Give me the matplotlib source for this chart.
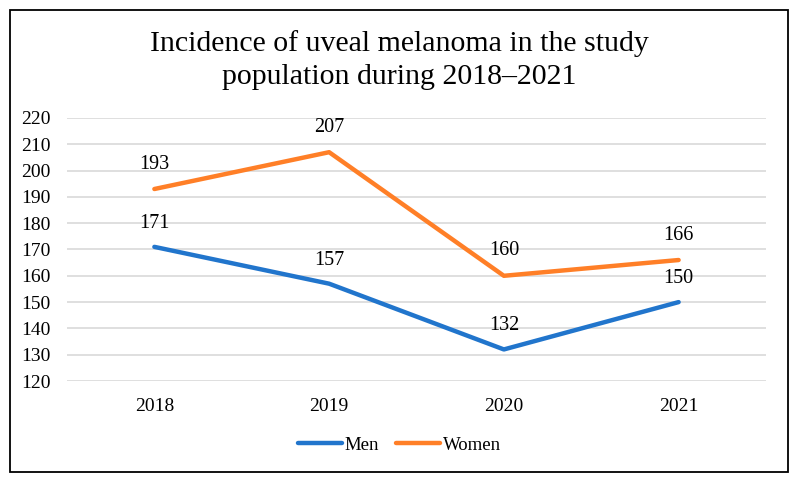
import matplotlib.pyplot as plt
from matplotlib.patches import Rectangle

# chart data
years = ["2018", "2019", "2020", "2021"]
men = [171, 157, 132, 150]
women = [193, 207, 160, 166]

plt.rcParams['font.family'] = ['Liberation Serif', 'DejaVu Serif']

W, H = 799, 482
fig = plt.figure(figsize=(W / 100, H / 100), dpi=100)

# outer frame
fig.patches.append(Rectangle((10 / W, 10 / H), 778 / W, 462 / H, transform=fig.transFigure,
                             fill=False, edgecolor='black', linewidth=1.3))

ax = fig.add_axes([67 / W, (H - 381) / H, 699 / W, 263 / H])
x = range(len(years))
ax.plot(x, men, color='#2175CC', linewidth=3.2, label='Men', solid_capstyle='round')
ax.plot(x, women, color='#FF7F27', linewidth=3.2, label='Women', solid_capstyle='round')

for i, v in enumerate(men):
    ax.annotate(str(v), (i, v), xytext=(0, 17), textcoords='offset points',
                ha='center', va='center', fontsize=14.5)
for i, v in enumerate(women):
    ax.annotate(str(v), (i, v), xytext=(0, 18), textcoords='offset points',
                ha='center', va='center', fontsize=14.5)

ax.set_xlim(-0.5, 3.5)
ax.set_ylim(120, 220)
ax.set_yticks(range(120, 221, 10))
ax.set_xticks(list(x))
ax.set_xticklabels(years)
ax.grid(axis='y', color='#d9d9d9', linewidth=1.2)
ax.set_axisbelow(True)
for s in ax.spines.values():
    s.set_visible(False)
ax.tick_params(length=0, labelsize=14)
ax.tick_params(axis='y', pad=12)
ax.tick_params(axis='x', pad=12)

fig.text(0.5, 1 - 44 / H, "Incidence of uveal melanoma in the study", ha='center', va='center', fontsize=21.5)
fig.text(0.5, 1 - 77 / H, "population during 2018\u20132021", ha='center', va='center', fontsize=21.5)

fig.legend(loc='center', bbox_to_anchor=(0.5, 1 - 445 / H), ncol=2, frameon=False,
           fontsize=13.5, handlelength=2.35, handletextpad=0.15, columnspacing=0.9)

fig.savefig('out.png', dpi=100)
